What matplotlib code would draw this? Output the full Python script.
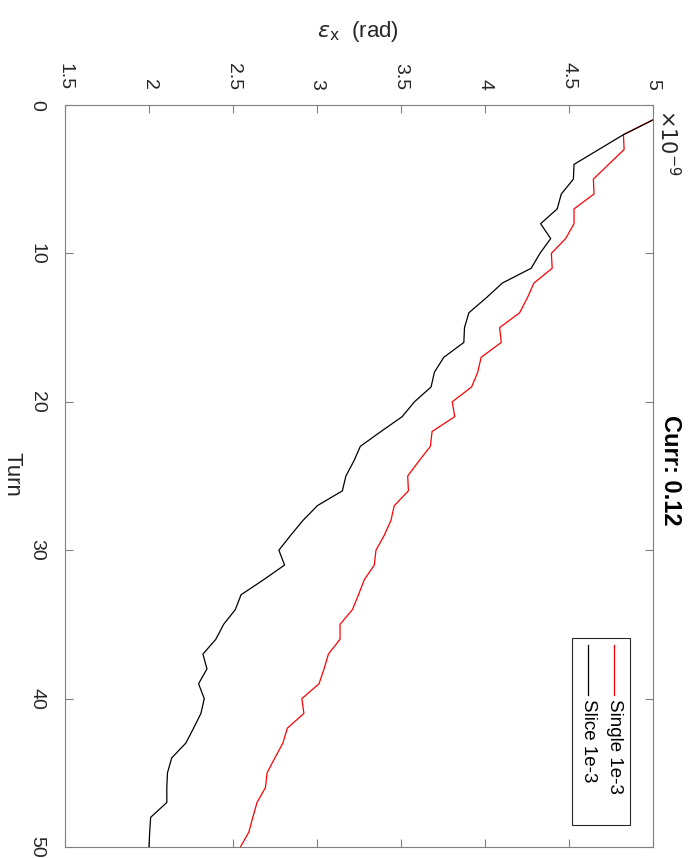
import matplotlib
matplotlib.use('Agg')
import matplotlib.pyplot as plt
import matplotlib.patches as patches
import matplotlib.lines as mlines

# Data (emittance in units of 1e-9 rad)
turns = list(range(1, 51))
single_1e3 = [5.000, 4.824, 4.828, 4.736, 4.645, 4.649, 4.530, 4.530, 4.480, 4.395,
              4.400, 4.291, 4.252, 4.206, 4.087, 4.097, 3.977, 3.957, 3.920, 3.805,
              3.820, 3.685, 3.675, 3.606, 3.540, 3.544, 3.460, 3.440, 3.400, 3.351,
              3.341, 3.281, 3.247, 3.211, 3.137, 3.137, 3.068, 3.042, 3.012, 2.910,
              2.922, 2.823, 2.797, 2.749, 2.703, 2.693, 2.643, 2.618, 2.594, 2.544]
slice_1e3 = [5.000, 4.824, 4.677, 4.530, 4.526, 4.454, 4.430, 4.331, 4.391, 4.327,
             4.275, 4.103, 4.007, 3.904, 3.878, 3.874, 3.755, 3.699, 3.679, 3.580,
             3.507, 3.381, 3.258, 3.219, 3.172, 3.151, 3.002, 2.916, 2.843, 2.773,
             2.807, 2.681, 2.548, 2.514, 2.444, 2.398, 2.321, 2.345, 2.295, 2.329,
             2.309, 2.265, 2.219, 2.135, 2.110, 2.106, 2.106, 2.010, 2.004, 2.000]
eps_ticks = [1.5, 2, 2.5, 3, 3.5, 4, 4.5, 5]
eps_ticklabels = ['1.5', '2', '2.5', '3', '3.5', '4', '4.5', '5']
turn_ticks = [0, 10, 20, 30, 40, 50]
series_names = ['Single 1e-3', 'Slice 1e-3']
series_colors = ['#ff0000', '#000000']

plt.rcParams['font.family'] = ['Liberation Sans', 'DejaVu Sans']
text_col = '#262626'
axis_col = '#808080'

fig = plt.figure(figsize=(6.9, 8.58), dpi=100)
# whole chart is drawn rotated 90 degrees clockwise
ax = fig.add_axes([65 / 690, 1 - 847 / 858, 588 / 690, 742 / 858])

ax.plot(single_1e3, turns, color=series_colors[0], lw=0.9)
ax.plot(slice_1e3, turns, color=series_colors[1], lw=0.9)

ax.set_xlim(1.5, 5)
ax.set_ylim(50, 0)

ax.set_xticks(eps_ticks)
ax.set_xticklabels(eps_ticklabels, rotation=-90)
ax.set_yticks(turn_ticks)
ax.set_yticklabels([str(t) for t in turn_ticks], rotation=-90, va='center')
ax.tick_params(axis='x', direction='in', top=True, bottom=True, labeltop=True,
               labelbottom=False, length=6, width=0.8, color=axis_col,
               labelsize=14, labelcolor=text_col, pad=11)
ax.tick_params(axis='y', direction='in', left=True, right=True, length=6,
               width=0.8, color=axis_col, labelsize=14, labelcolor=text_col, pad=14)
for sp in ax.spines.values():
    sp.set_color(axis_col)
    sp.set_linewidth(0.8)

# Legend (rotated, drawn by hand)
def fx(x):
    return (x - 65) / 588

def fy(y):
    return 1 - (y - 105) / 742

ax.add_patch(patches.Rectangle((fx(572), fy(825)), fx(630) - fx(572), fy(638) - fy(825),
                               transform=ax.transAxes, fill=True, fc='white',
                               ec='#262626', lw=0.8, zorder=5))
for i, (name, col) in enumerate(zip(series_names, series_colors)):
    lx = [614, 588][i]
    ax.add_line(mlines.Line2D([fx(lx), fx(lx)], [fy(645), fy(695)], color=col, lw=0.9,
                              transform=ax.transAxes, zorder=6))
    ax.text(fx(lx), fy(699), name, transform=ax.transAxes, rotation=-90,
            ha='center', va='top', fontsize=13.5, color='#000000', zorder=6)

# Labels and title
fig.text(358 / 690, 1 - 32 / 858, r'$\epsilon_{\rm x}$  (rad)', ha='center', va='center',
         fontsize=16, color=text_col, math_fontfamily='dejavusans')
fig.text(12 / 690, 1 - 474 / 858, 'Turn', rotation=-90, ha='center', va='center',
         fontsize=16, color=text_col)
fig.text(670 / 690, 1 - 470 / 858, 'Curr: 0.12', rotation=-90, ha='center', va='center',
         fontsize=17, fontweight='bold', color='#000000')
fig.text(656 / 690, 1 - 109 / 858, r'$\times10^{-9}$', rotation=-90, ha='left', va='top',
         fontsize=15, color=text_col, math_fontfamily='dejavusans')

plt.savefig('out.png', dpi=100)
